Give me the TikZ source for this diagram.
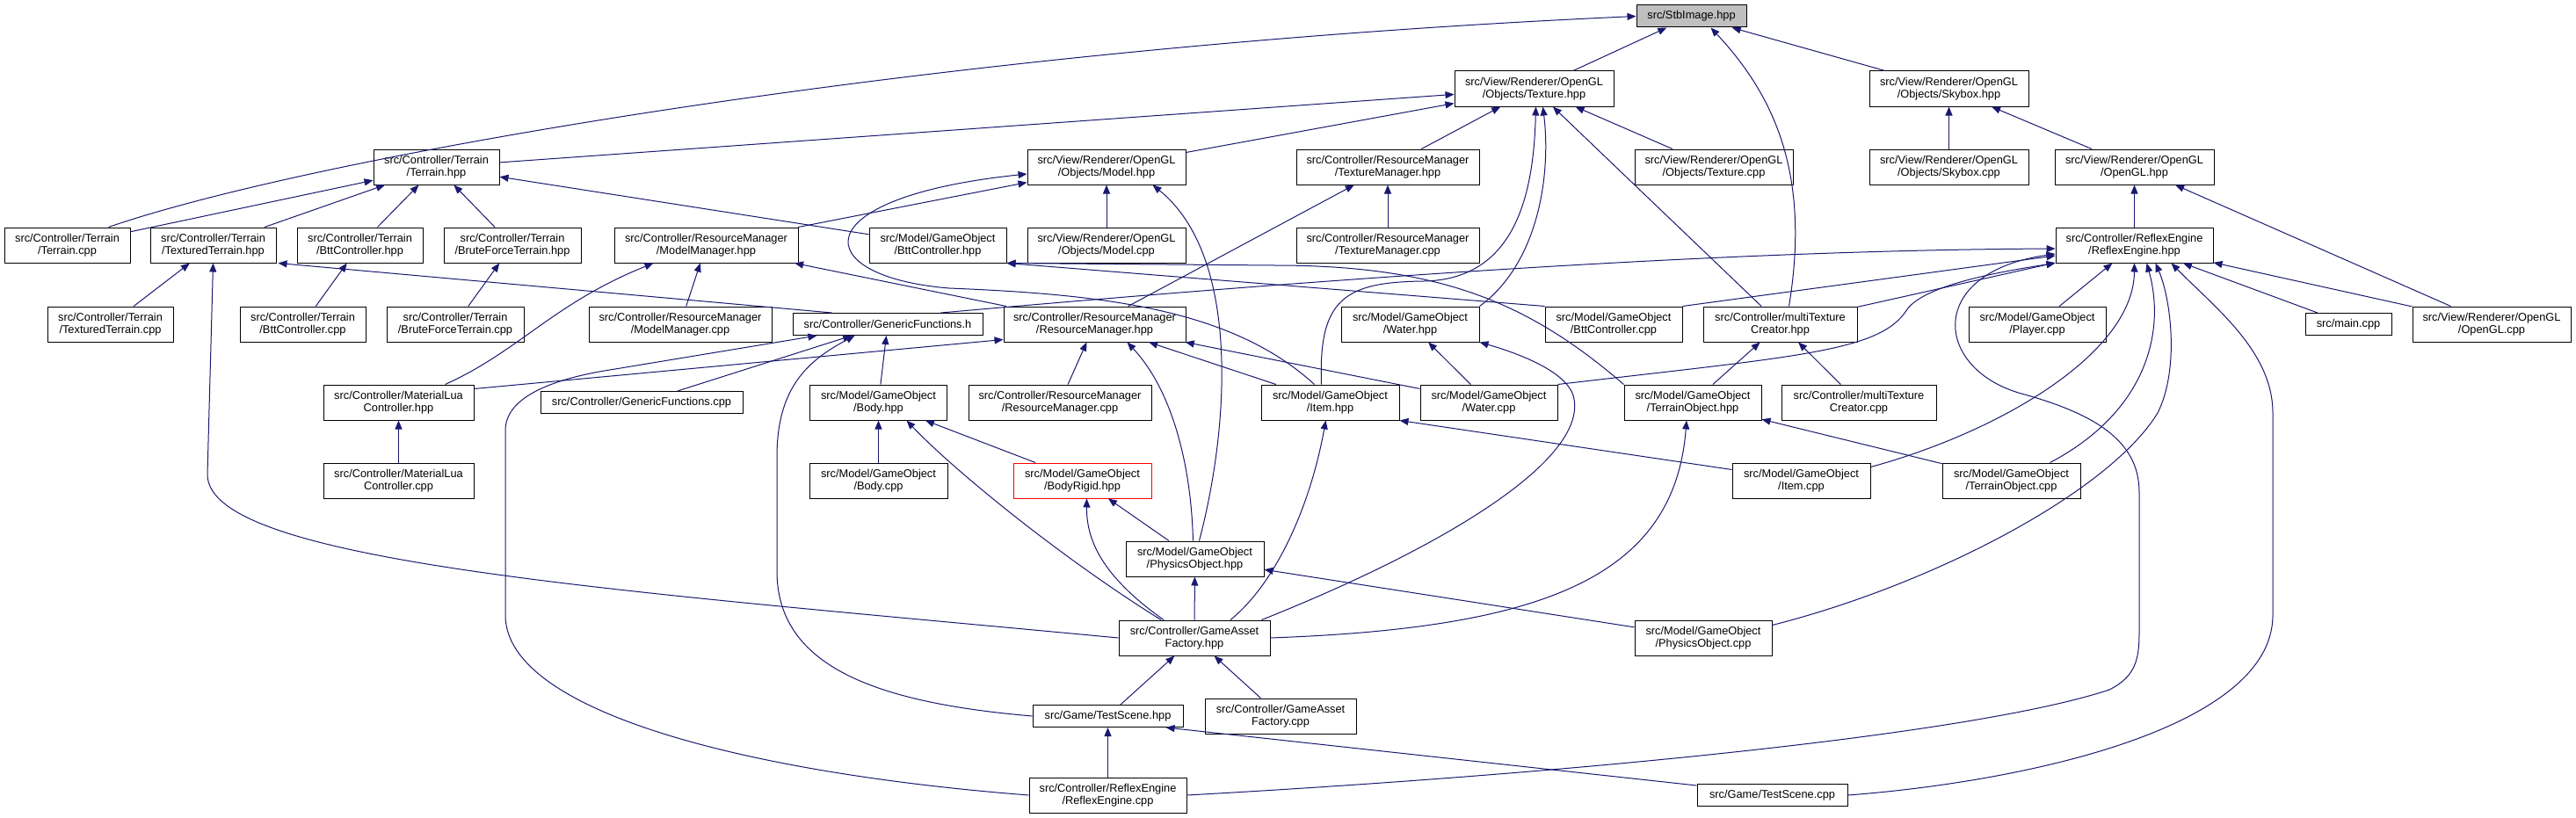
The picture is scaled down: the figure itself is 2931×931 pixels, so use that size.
\documentclass[tikz,border=0pt]{standalone}
\usepackage{fontspec}
\setmainfont{Liberation Sans}
\usetikzlibrary{arrows.meta,calc}
\definecolor{edgecol}{HTML}{191970}
\begin{document}
\begin{tikzpicture}[x=0.75pt,y=-0.75pt,
  bx/.style={draw=black, fill=white, line width=0.75pt, inner sep=0pt, align=center,
     minimum height=30pt, font=\fontsize{9.6}{10.7}\selectfont},
  bw/.style={minimum width=#1*0.75pt},
  one/.style={minimum height=18.75pt},
  dep/.style={draw=edgecol, line width=0.75pt, -{Triangle[length=7.5pt,width=6pt]}}]
\fill[white] (0,0) rectangle (2931,931);
\useasboundingbox (0,0) rectangle (2931,931);
% row A
\node[bx,bw=125,one,fill=black!25] (stb) at (1924.5,18.5) {src/StbImage.hpp};
% row B
\node[bx,bw=181] (texh) at (1745.5,101) {src/View/Renderer/OpenGL\\/Objects/Texture.hpp};
\node[bx,bw=181] (skyh) at (2217.5,101) {src/View/Renderer/OpenGL\\/Objects/Skybox.hpp};
% row C
\node[bx,bw=143] (terh) at (496.5,190) {src/Controller/Terrain\\/Terrain.hpp};
\node[bx,bw=180] (modh) at (1259,190) {src/View/Renderer/OpenGL\\/Objects/Model.hpp};
\node[bx,bw=208] (tmh) at (1579,190) {src/Controller/ResourceManager\\/TextureManager.hpp};
\node[bx,bw=180] (texc) at (1950,190) {src/View/Renderer/OpenGL\\/Objects/Texture.cpp};
\node[bx,bw=181] (skyc) at (2217.5,190) {src/View/Renderer/OpenGL\\/Objects/Skybox.cpp};
\node[bx,bw=181] (oglh) at (2428.5,190) {src/View/Renderer/OpenGL\\/OpenGL.hpp};
% row D
\node[bx,bw=143] (terc) at (76.5,279) {src/Controller/Terrain\\/Terrain.cpp};
\node[bx,bw=143] (tth) at (242.5,279) {src/Controller/Terrain\\/TexturedTerrain.hpp};
\node[bx,bw=143] (btth) at (409.5,279) {src/Controller/Terrain\\/BttController.hpp};
\node[bx,bw=156] (bfh) at (583,279) {src/Controller/Terrain\\/BruteForceTerrain.hpp};
\node[bx,bw=209] (mmh) at (803.5,279) {src/Controller/ResourceManager\\/ModelManager.hpp};
\node[bx,bw=156] (gbtth) at (1067,279) {src/Model/GameObject\\/BttController.hpp};
\node[bx,bw=180] (modc) at (1259,279) {src/View/Renderer/OpenGL\\/Objects/Model.cpp};
\node[bx,bw=208] (tmc) at (1579,279) {src/Controller/ResourceManager\\/TextureManager.cpp};
\node[bx,bw=179] (reh) at (2428.5,279) {src/Controller/ReflexEngine\\/ReflexEngine.hpp};
% row E
\node[bx,bw=143] (ttc) at (125.5,369) {src/Controller/Terrain\\/TexturedTerrain.cpp};
\node[bx,bw=143] (bttc) at (344.5,369) {src/Controller/Terrain\\/BttController.cpp};
\node[bx,bw=156] (bfc) at (518,369) {src/Controller/Terrain\\/BruteForceTerrain.cpp};
\node[bx,bw=208] (mmc) at (774,369) {src/Controller/ResourceManager\\/ModelManager.cpp};
\node[bx,bw=216,one] (gfh) at (1010,369) {src/Controller/GenericFunctions.h};
\node[bx,bw=207] (rmh) at (1245.5,369) {src/Controller/ResourceManager\\/ResourceManager.hpp};
\node[bx,bw=157] (wath) at (1604.5,369) {src/Model/GameObject\\/Water.hpp};
\node[bx,bw=156] (gbttc) at (1836,369) {src/Model/GameObject\\/BttController.cpp};
\node[bx,bw=175] (mtch) at (2025.5,369) {src/Controller/multiTexture\\Creator.hpp};
\node[bx,bw=156] (plc) at (2318,369) {src/Model/GameObject\\/Player.cpp};
\node[bx,bw=98,one] (mainc) at (2672,369) {src/main.cpp};
\node[bx,bw=180] (oglc) at (2835,369) {src/View/Renderer/OpenGL\\/OpenGL.cpp};
% row F
\node[bx,bw=171] (mlh) at (453.5,458) {src/Controller/MaterialLua\\Controller.hpp};
\node[bx,bw=230,one] (gfc) at (730,458) {src/Controller/GenericFunctions.cpp};
\node[bx,bw=156] (bodh) at (999.5,458) {src/Model/GameObject\\/Body.hpp};
\node[bx,bw=208] (rmc) at (1206,458) {src/Controller/ResourceManager\\/ResourceManager.cpp};
\node[bx,bw=157] (itemh) at (1513.5,458) {src/Model/GameObject\\/Item.hpp};
\node[bx,bw=156] (watc) at (1694,458) {src/Model/GameObject\\/Water.cpp};
\node[bx,bw=156] (toh) at (1926,458) {src/Model/GameObject\\/TerrainObject.hpp};
\node[bx,bw=176] (mtcc) at (2115,458) {src/Controller/multiTexture\\Creator.cpp};
% row G
\node[bx,bw=171] (mlc) at (453.5,547) {src/Controller/MaterialLua\\Controller.cpp};
\node[bx,bw=157] (bodc) at (999.5,547) {src/Model/GameObject\\/Body.cpp};
\node[bx,bw=157,draw=red] (brh) at (1231.5,547) {src/Model/GameObject\\/BodyRigid.hpp};
\node[bx,bw=157] (itemc) at (2049.5,547) {src/Model/GameObject\\/Item.cpp};
\node[bx,bw=157] (toc) at (2288.5,547) {src/Model/GameObject\\/TerrainObject.cpp};
% row H
\node[bx,bw=157] (poh) at (1359.5,636) {src/Model/GameObject\\/PhysicsObject.hpp};
% row I
\node[bx,bw=172] (gafh) at (1359,726) {src/Controller/GameAsset\\Factory.hpp};
\node[bx,bw=156] (poc) at (1938,726) {src/Model/GameObject\\/PhysicsObject.cpp};
% row J
\node[bx,bw=171,one] (tsh) at (1260.5,815) {src/Game/TestScene.hpp};
\node[bx,bw=172] (gafc) at (1457,815) {src/Controller/GameAsset\\Factory.cpp};
% row K
\node[bx,bw=179] (rec) at (1260.5,905) {src/Controller/ReflexEngine\\/ReflexEngine.cpp};
\node[bx,bw=171,one] (tsc) at (2016.5,905) {src/Game/TestScene.cpp};

% edges
\draw[dep] ($(terc.north)+(47,0)$) .. controls (350,180) and (1050,55) .. (stb.west);
\draw[dep] (texh) -- (stb);
\draw[dep] (skyh) -- (stb);
\draw[dep] ($(mtch.north)+(10,0)$) .. controls (2060,200) and (2020,110) .. ($(stb.south)+(22,0)$);
\draw[dep] (terh) -- (texh);
\draw[dep] (modh) -- (texh);
\draw[dep] (tmh) -- (texh);
\draw[dep] (texc) -- (texh);
\draw[dep] ($(itemh.north)+(-10,0)$) .. controls (1500,340) and (1530,321) .. (1620,320) .. controls (1725,318) and (1745,220) .. ($(texh.south)+(2,0)$);
\draw[dep] (wath.north east) .. controls (1750,300) and (1765,200) .. ($(texh.south)+(10,0)$);
\draw[dep] (mtch) -- (texh);
\draw[dep] (skyc) -- (skyh);
\draw[dep] (oglh) -- (skyh);
\draw[dep] (reh) -- (oglh);
\draw[dep] (oglc) -- (oglh);
\draw[dep] (terc) -- (terh);
\draw[dep] (tth) -- (terh);
\draw[dep] (btth) -- (terh);
\draw[dep] (bfh) -- (terh);
\draw[dep] (gbtth) -- (terh);
\draw[dep] (ttc) -- (tth);
\draw[dep] (gafh.west) .. controls (700,672) and (236,640) .. (236,540) -- (tth.south);
\draw[dep] ($(gfh.north west)+(45,0)$) -- ($(tth.south east)+(2,0)$);
\draw[dep] (bttc) -- (btth);
\draw[dep] (bfc) -- (bfh);
\draw[dep] ($(mlh.north)+(53,0)$) .. controls (590,400) and (630,345) .. ($(mmh.south west)+(45,0)$);
\draw[dep] (mmc) -- (mmh);
\draw[dep] (rmh) -- (mmh);
\draw[dep] (mmh) -- (modh);
\draw[dep] (gbttc.north west) -- (gbtth.south east);
\draw[dep] (toh.north west) .. controls (1740,345) and (1640,302) .. (1450,302) -- (gbtth.south east);
\draw[dep] (modc) -- (modh);
\draw[dep] (tmc) -- (tmh);
\draw[dep] (rmh) -- (tmh);
\draw[dep] ($(gfh.north east)+(-48,0)$) .. controls (1500,318) and (1950,285) .. ($(reh.west)+(0,4)$);
\draw[dep] (gbttc.north east) -- ($(reh.west)+(0,12)$);
\draw[dep] (mtch) -- (reh);
\draw[dep] (watc.north east) .. controls (2050,405) and (2140,400) .. (2170,352) .. controls (2190,325) and (2270,310) .. (reh.south west);
\draw[dep] (plc) -- (reh);
\draw[dep] (mainc) -- (reh);
\draw[dep] (oglc) -- (reh);
\draw[dep] ($(itemc.north east)+(0,5)$) .. controls (2280,490) and (2428,400) .. (reh.south);
\draw[dep] ($(toc.north east)+(-35,0)$) .. controls (2440,470) and (2465,380) .. ($(reh.south)+(14,0)$);
\draw[dep] ($(poc.north east)+(0,6)$) .. controls (2200,665) and (2400,560) .. (2455,470) .. controls (2480,420) and (2470,340) .. ($(reh.south)+(24,0)$);
\draw[dep] (tsc.east) .. controls (2300,890) and (2586,830) .. (2586,700) -- (2586,470) .. controls (2586,400) and (2520,350) .. ($(reh.south)+(42,0)$);
\draw[dep] (rec.east) .. controls (1800,880) and (2250,835) .. (2400,785) .. controls (2430,770) and (2434,750) .. (2434,720) -- (2434,560) .. controls (2434,500) and (2380,470) .. (2300,448) .. controls (2200,420) and (2190,310) .. ($(reh.west)+(0,10)$);
\draw[dep] (rec) -- (tsh);
\draw[dep] (rec.west) .. controls (850,880) and (575,810) .. (575,700) -- (575,490) .. controls (575,455) and (620,432) .. (700,420) -- ($(gfh.south west)+(28,0)$);
\draw[dep] (tsh.west) .. controls (1000,800) and (884,760) .. (884,650) -- (884,520) .. controls (884,440) and (920,410) .. ($(gfh.south west)+(71,0)$);
\draw[dep] (gfc) -- (gfh);
\draw[dep] (bodh) -- (gfh);
\draw[dep] ($(mlh.north east)+(0,5)$) -- ($(rmh.south west)+(0,-3)$);
\draw[dep] (rmc) -- (rmh);
\draw[dep] ($(poh.north)+(-2,0)$) .. controls (1355,520) and (1330,440) .. ($(rmh.south)+(37,0)$);
\draw[dep] (itemh) -- (rmh);
\draw[dep] (watc) -- (rmh);
\draw[dep] ($(poh.north)+(5,0)$) .. controls (1400,480) and (1410,290) .. ($(modh.south east)+(-38,0)$);
\draw[dep] ($(itemh.north)+(-18,0)$) .. controls (1400,350) and (1250,335) .. (1080,328) .. controls (920,315) and (910,225) .. ($(modh.west)+(0,8)$);
\draw[dep] (poh) -- (brh);
\draw[dep] ($(gafh.north)+(-35,0)$) .. controls (1260,660) and (1236,620) .. ($(brh.south)+(5,0)$);
\draw[dep] ($(gafh.north)+(-38,0)$) .. controls (1200,630) and (1080,530) .. ($(bodh.south)+(32,0)$);
\draw[dep] (brh) -- (bodh);
\draw[dep] (bodc) -- (bodh);
\draw[dep] (gafh) -- (poh);
\draw[dep] (poc) -- (poh);
\draw[dep] ($(itemc.north west)+(0,8)$) -- (itemh.south east);
\draw[dep] ($(gafh.north)+(41,0)$) .. controls (1450,665) and (1490,580) .. ($(itemh.south)+(-5,0)$);
\draw[dep] ($(gafh.north east)+(-10,0)$) .. controls (1650,620) and (1810,520) .. (1790,450) .. controls (1780,420) and (1720,400) .. (wath.south east);
\draw[dep] (gafh.east) .. controls (1750,715) and (1905,660) .. ($(toh.south)+(-7,0)$);
\draw[dep] (toc) -- (toh);
\draw[dep] (toh) -- (mtch);
\draw[dep] (mtcc) -- (mtch);
\draw[dep] (watc) -- (wath);
\draw[dep] ($(tsc.north west)+(0,2)$) -- ($(tsh.south east)+(-20,0)$);
\draw[dep] (tsh) -- (gafh);
\draw[dep] (gafc) -- (gafh);
\draw[dep] (mlc) -- (mlh);
\end{tikzpicture}
\end{document}
